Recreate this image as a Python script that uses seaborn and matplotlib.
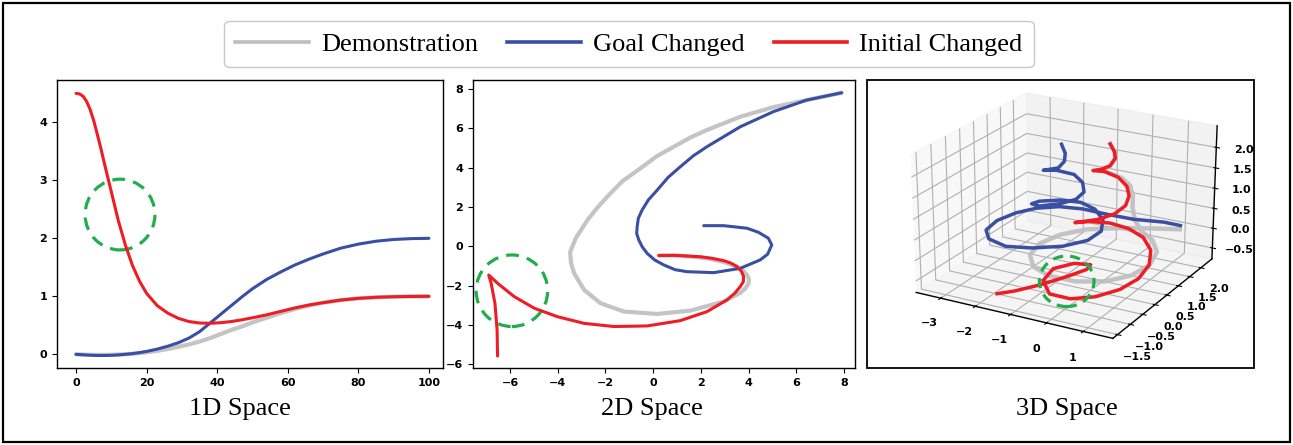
import numpy as np
import pandas as pd
import matplotlib
matplotlib.use("Agg")
import matplotlib.pyplot as plt
from matplotlib.patches import Ellipse, Rectangle
from matplotlib.lines import Line2D
import seaborn as sns

# ---------------- 1D trajectories (time step -> position) ----------------
t_1d = [0, 1, 2, 3, 4, 5, 6, 7, 8, 10, 12, 14, 16, 18, 20, 23, 26, 29, 32, 35,
        38, 41, 44, 47, 50, 54, 58, 62, 66, 70, 75, 80, 85, 90, 95, 100]
demo_1d = [0.0, -0.002, -0.004, -0.006, -0.008, -0.009, -0.01, -0.01, -0.01,
           -0.008, -0.004, 0.002, 0.01, 0.02, 0.035, 0.06, 0.09, 0.13, 0.17,
           0.22, 0.28, 0.35, 0.42, 0.48, 0.55, 0.63, 0.71, 0.78, 0.84, 0.89,
           0.935, 0.965, 0.983, 0.993, 0.998, 1.0]
goal_1d = [0.0, -0.004, -0.008, -0.012, -0.015, -0.018, -0.02, -0.02, -0.02,
           -0.017, -0.01, 0.0, 0.012, 0.03, 0.05, 0.09, 0.14, 0.20, 0.28, 0.39,
           0.54, 0.69, 0.84, 0.99, 1.13, 1.29, 1.42, 1.54, 1.64, 1.73, 1.83,
           1.90, 1.95, 1.98, 1.995, 2.0]
init_1d = [4.5, 4.49, 4.45, 4.36, 4.22, 4.03, 3.8, 3.56, 3.3, 2.8, 2.3, 1.88,
           1.53, 1.26, 1.05, 0.84, 0.71, 0.62, 0.565, 0.54, 0.535, 0.545, 0.565,
           0.595, 0.63, 0.68, 0.74, 0.80, 0.85, 0.89, 0.935, 0.965, 0.983,
           0.993, 0.998, 1.0]

# ---------------- 2D trajectories ----------------
demo_2d_x = [7.90, 6.44, 5.04, 3.65, 2.26, 1.57, 0.87, 0.15, -0.53, -1.28,
             -1.92, -2.35, -2.75, -3.24, -3.48, -3.44, -3.31, -3.10, -2.89,
             -2.20, -1.22, 0.17, 1.56, 2.96, 3.65, 3.86, 4.00, 4.01, 3.93, 3.76,
             3.51, 2.90, 2.26, 1.14, 0.24]
demo_2d_y = [7.81, 7.44, 7.08, 6.59, 5.92, 5.54, 5.07, 4.58, 3.97, 3.32, 2.53,
             1.95, 1.34, 0.42, -0.30, -0.85, -1.37, -1.80, -2.22, -2.90, -3.32,
             -3.44, -3.27, -2.81, -2.37, -2.15, -1.88, -1.66, -1.46, -1.22,
             -1.03, -0.78, -0.61, -0.47, -0.46]
goal_2d_x = [7.90, 6.44, 5.04, 3.65, 2.26, 1.68, 1.14, 0.63, 0.17, -0.20,
             -0.46, -0.62, -0.67, -0.69, -0.60, -0.46, -0.25, 0.07, 0.45, 0.92,
             1.42, 2.54, 3.65, 4.49, 4.80, 4.97, 4.83, 4.42, 3.93, 2.96, 2.12]
goal_2d_y = [7.81, 7.44, 6.85, 6.08, 5.07, 4.60, 4.05, 3.51, 2.86, 2.36, 1.85,
             1.43, 1.00, 0.65, 0.32, -0.02, -0.36, -0.70, -0.95, -1.19, -1.29,
             -1.34, -1.12, -0.69, -0.40, 0.07, 0.41, 0.71, 0.92, 1.05, 1.05]
init_2d_x = [-6.52, -6.54, -6.63, -6.79, -6.89, -6.52, -5.82, -4.98, -4.01,
             -2.89, -1.64, -0.25, 1.14, 2.26, 3.09, 3.41, 3.65, 3.78, 3.79, 3.70,
             3.51, 3.27, 2.96, 2.47, 1.98, 0.87, 0.24]
init_2d_y = [-5.58, -4.25, -2.90, -1.88, -1.46, -1.88, -2.56, -3.15, -3.58,
             -3.92, -4.08, -4.05, -3.78, -3.32, -2.73, -2.40, -2.05, -1.80,
             -1.54, -1.27, -1.03, -0.86, -0.73, -0.61, -0.53, -0.46, -0.47]

# ---------------- 3D trajectories ----------------
demo_3d_x = [1.13, 0.52, -0.26, -0.98, -1.45, -1.67, -1.57, -1.17, -0.61, 0.10,
             0.74, 1.15, 1.29, 1.14, 0.78, 0.48, 0.32, 0.25, 0.22, 0.09, -0.08,
             -0.31, -0.45, -0.26, -0.19, -0.21, -0.37]
demo_3d_y = [2.05, 1.87, 1.59, 1.23, 0.82, 0.30, -0.21, -0.61, -0.78, -0.74,
             -0.47, -0.02, 0.51, 1.05, 1.40, 1.40, 1.32, 1.33, 1.38, 1.45, 1.35,
             1.16, 1.05, 1.12, 1.23, 1.23, 1.28]
demo_3d_z = [0.05, 0.04, 0.03, 0.02, -0.02, -0.06, -0.10, -0.14, -0.18, -0.20,
             -0.20, -0.18, -0.14, -0.08, 0.00, 0.15, 0.45, 0.75, 1.00, 1.20,
             1.40, 1.55, 1.65, 1.75, 1.90, 2.05, 2.20]
goal_3d_x = [1.09, 0.64, -0.10, -0.81, -1.45, -2.02, -2.46, -2.71, -2.82, -2.67,
             -2.24, -1.56, -0.88, -0.22, 0.19, 0.26, 0.07, -0.31, -0.78, -1.23,
             -1.62, -1.67, -1.40, -0.97, -0.64, -0.50, -0.64, -0.89, -1.27,
             -1.51, -1.21, -1.12, -1.19, -1.42]
goal_3d_y = [2.14, 2.11, 1.90, 1.79, 1.72, 1.55, 1.22, 0.76, 0.17, -0.42, -0.86,
             -1.11, -1.03, -0.77, -0.39, 0.04, 0.38, 0.60, 0.69, 0.51, 0.23,
             0.00, -0.07, 0.16, 0.31, 0.43, 0.57, 0.58, 0.42, 0.24, 0.41, 0.52,
             0.65, 0.82]
goal_3d_z = [0.10, 0.12, 0.15, 0.20, 0.25, 0.28, 0.30, 0.33, 0.36, 0.40, 0.45,
             0.50, 0.55, 0.60, 0.65, 0.70, 0.80, 0.90, 0.95, 1.00, 1.02, 1.04,
             1.06, 1.10, 1.20, 1.35, 1.50, 1.65, 1.75, 1.78, 1.82, 1.95, 2.08,
             2.20]
init_3d_x = [-1.50, -1.17, -0.77, -0.37, -0.13, -0.16, -0.56, -0.88, -0.77,
             -0.26, 0.32, 0.81, 1.16, 1.31, 1.21, 0.91, 0.44, -0.07, -0.59,
             -1.04, -1.30, -0.71, -0.25, 0.05, 0.14, 0.04, -0.18, -0.47, -0.71,
             -0.51, -0.26, -0.19, -0.21, -0.37]
init_3d_y = [-1.52, -1.30, -0.90, -0.38, 0.03, 0.23, 0.14, -0.24, -0.78, -1.22,
             -1.23, -0.96, -0.50, 0.03, 0.62, 1.14, 1.52, 1.66, 1.63, 1.44,
             1.19, 1.26, 1.31, 1.33, 1.34, 1.39, 1.35, 1.20, 1.08, 1.15, 1.12,
             1.23, 1.23, 1.28]
init_3d_z = [-0.45, -0.42, -0.38, -0.33, -0.30, -0.28, -0.28, -0.30, -0.33,
             -0.35, -0.35, -0.33, -0.30, -0.25, -0.20, -0.12, -0.05, 0.02, 0.08,
             0.12, 0.15, 0.30, 0.50, 0.75, 1.00, 1.20, 1.40, 1.55, 1.58, 1.62,
             1.75, 1.90, 2.05, 2.20]

series_labels = ["Demonstration", "Goal Changed", "Initial Changed"]
panel_titles = ["1D Space", "2D Space", "3D Space"]

GRAY, BLUE, RED, GREEN = "#bebebe", "#3a4fa3", "#ee1c24", "#1fae4a"
SERIF = "Liberation Serif"

plt.rcParams["font.family"] = ["DejaVu Sans"]
plt.rcParams["axes.linewidth"] = 1.0
plt.rcParams["xtick.major.size"] = 3.5
plt.rcParams["ytick.major.size"] = 3.5

W, H = 1293, 445
fig = plt.figure(figsize=(W / 100, H / 100), dpi=100)


def px_box(left, top, right, bottom):
    return [left / W, 1 - bottom / H, (right - left) / W, (bottom - top) / H]


line_kw = dict(sort=False, estimator=None, legend=False)
DASH = (0, (4, 2.6))

# ---- 1D panel ----
ax1 = fig.add_axes(px_box(57, 80, 443, 368))
sns.lineplot(x=t_1d, y=demo_1d, color=GRAY, lw=3.0, alpha=0.9, ax=ax1, **line_kw)
sns.lineplot(x=t_1d, y=goal_1d, color=BLUE, lw=2.2, ax=ax1, **line_kw)
sns.lineplot(x=t_1d, y=init_1d, color=RED, lw=2.2, ax=ax1, **line_kw)
ax1.set_xlim(-5.4, 104)
ax1.set_ylim(-0.236, 4.73)
ax1.set_xticks([0, 20, 40, 60, 80, 100])
ax1.set_yticks([0, 1, 2, 3, 4])
ax1.add_patch(Ellipse((12.46, 2.41), 19.8, 1.22, fill=False, ec=GREEN, lw=2.3,
                      ls=DASH))

# ---- 2D panel ----
ax2 = fig.add_axes(px_box(473, 80, 855, 368))
sns.lineplot(x=demo_2d_x, y=demo_2d_y, color=GRAY, lw=3.0, alpha=0.9, ax=ax2, **line_kw)
sns.lineplot(x=goal_2d_x, y=goal_2d_y, color=BLUE, lw=2.2, ax=ax2, **line_kw)
sns.lineplot(x=init_2d_x, y=init_2d_y, color=RED, lw=2.2, ax=ax2, **line_kw)
ax2.set_xlim(-7.55, 8.46)
ax2.set_ylim(-6.19, 8.46)
ax2.set_xticks(np.arange(-6, 9, 2))
ax2.set_yticks(np.arange(-6, 9, 2))
ax2.add_patch(Ellipse((-5.92, -2.26), 3.0, 3.64, fill=False, ec=GREEN, lw=2.3,
                      ls=DASH))

for ax in (ax1, ax2):
    ax.set_xlabel("")
    ax.set_ylabel("")
    for line in ax.get_lines():
        line.set_solid_joinstyle("round")
        line.set_solid_capstyle("round")
    for lab in ax.get_xticklabels() + ax.get_yticklabels():
        lab.set_fontsize(8)
        lab.set_fontweight("bold")
    for sp in ax.spines.values():
        sp.set_color("black")

# ---- 3D panel ----
AW, AH = 344, 307
cx, cy = 1062.5, 213
ax3 = fig.add_axes(px_box(cx - AW / 2, cy - AH / 2, cx + AW / 2, cy + AH / 2),
                   projection="3d")
# keep the full (non-square) panel rectangle for the projection
ax3.apply_aspect = lambda position=None: None
ax3.patch.set_alpha(0)
ax3.view_init(elev=24, azim=-61)
for xs, ys, zs, c, lw, a in ((demo_3d_x, demo_3d_y, demo_3d_z, GRAY, 3.2, 0.9),
                             (goal_3d_x, goal_3d_y, goal_3d_z, BLUE, 2.5, 1.0),
                             (init_3d_x, init_3d_y, init_3d_z, RED, 2.5, 1.0)):
    ax3.plot(xs, ys, zs, color=c, lw=lw, alpha=a, solid_joinstyle="round")
ax3.set_xlim(-3.72, 1.79)
ax3.set_ylim(-1.68, 2.51)
ax3.set_zlim(-0.78, 2.52)
ax3.set_xticks([-3, -2, -1, 0, 1])
ax3.set_yticks(np.arange(-1.5, 2.01, 0.5))
ax3.set_zticks(np.arange(-0.5, 2.01, 0.5))
ax3.tick_params(labelsize=8)
for lab in ax3.get_xticklabels() + ax3.get_yticklabels() + ax3.get_zticklabels():
    lab.set_fontweight("bold")

# dashed highlight circle on the 3D panel (figure pixels)
fig.patches.append(Ellipse((1066.7 / W, 1 - 281.3 / H), 54.6 / W, 50.6 / H,
                           transform=fig.transFigure, fill=False, ec=GREEN,
                           lw=2.3, ls=(0, (3.2, 2.2)), zorder=5))

# frames
fig.patches.append(Rectangle((867 / W, 1 - 368 / H), 387 / W, 288 / H,
                             transform=fig.transFigure, fill=False, ec="black",
                             lw=1.3, zorder=4))
fig.patches.append(Rectangle((3 / W, 3 / H), 1287 / W, 439 / H,
                             transform=fig.transFigure, fill=False, ec="black",
                             lw=1.6, zorder=4))

# panel captions
for xc, title in zip([240, 652, 1067], panel_titles):
    fig.text(xc / W, 1 - 409 / H, title, ha="center", va="center",
             family=SERIF, fontsize=19)

# shared legend
handles = [Line2D([], [], color=c, lw=2.6) for c in (GRAY, BLUE, RED)]
fig.legend(handles, series_labels, loc="center", ncol=3,
           bbox_to_anchor=(629 / W, 1 - 44 / H), frameon=True, fancybox=True,
           edgecolor="#c8c8c8", prop=dict(family=SERIF, size=19),
           handlelength=2.8, handletextpad=0.45, columnspacing=1.1,
           borderpad=0.42, framealpha=1)

fig.savefig("out.png", dpi=100)
